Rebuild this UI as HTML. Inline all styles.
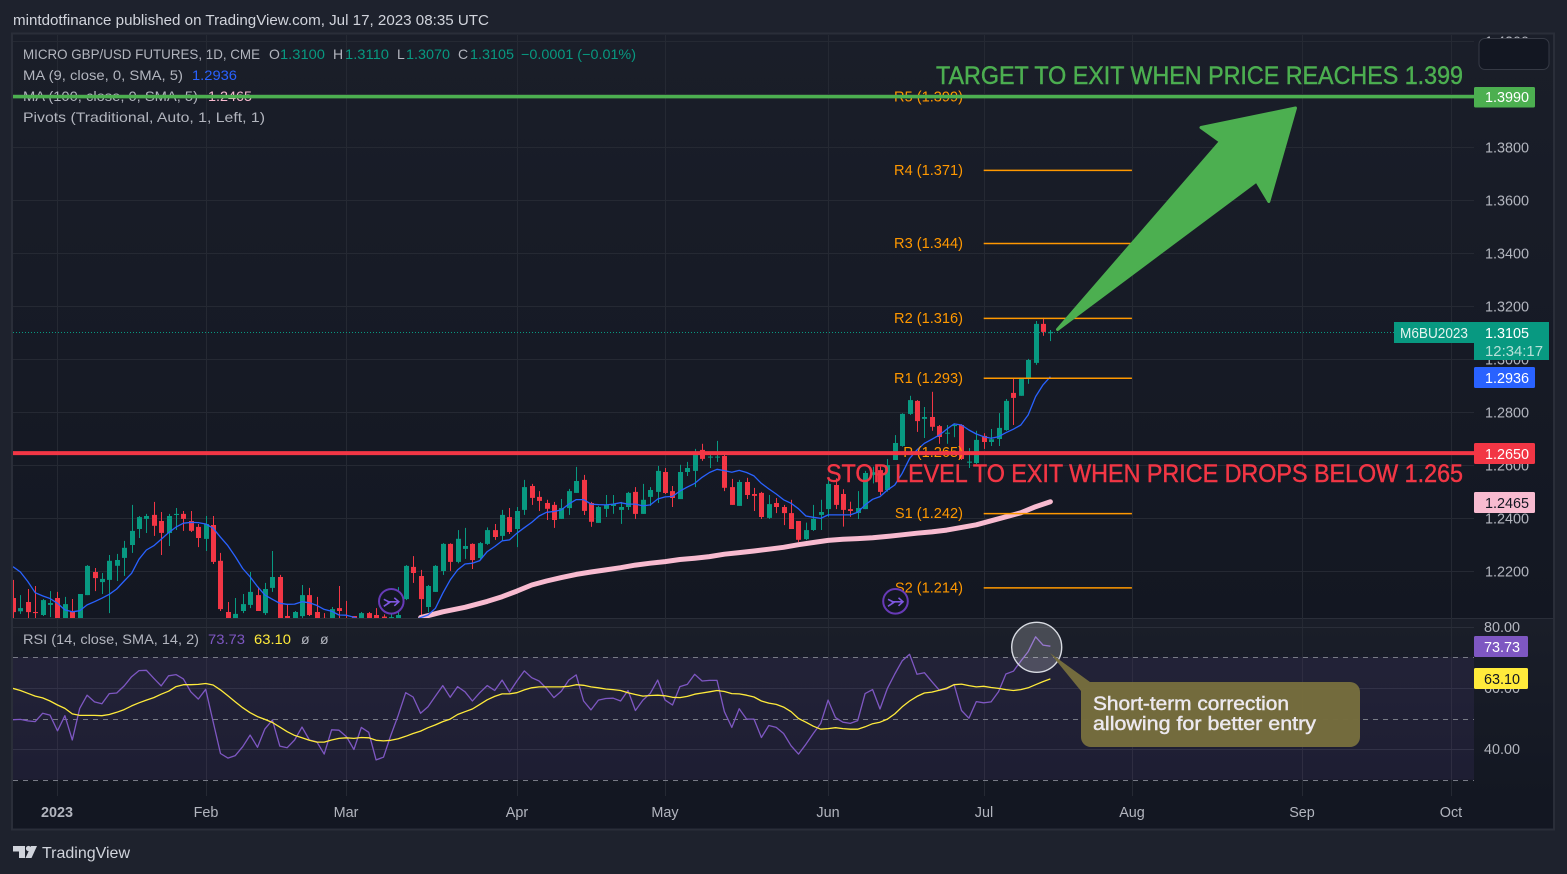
<!DOCTYPE html>
<html lang="en">
<head>
<meta charset="utf-8">
<title>Micro GBP/USD Futures chart</title>
<style>
html,body{margin:0;padding:0;background:#1e222d;width:1567px;height:874px;overflow:hidden}
svg{display:block;font-family:"Liberation Sans",sans-serif}
.leg{font-size:14px;fill:#b2b5be}
.val{font-size:14px;fill:#089981}
.axis{font-size:14.4px;fill:#b2b5be}
.piv{font-size:14.6px;fill:#ff9800}
.box{font-size:14.4px;fill:#fff}
.heavy{paint-order:stroke;stroke-width:0.45px}
</style>
</head>
<body>
<svg id="chart" width="1567" height="874" viewBox="0 0 1567 874" xmlns="http://www.w3.org/2000/svg">
<defs>
<linearGradient id="paneGrad" x1="0" y1="0" x2="0" y2="1"><stop offset="0" stop-color="#1a1e29"/><stop offset="1" stop-color="#131722"/></linearGradient>
<clipPath id="mainClip"><rect x="13" y="34" width="1461" height="584"/></clipPath>
<clipPath id="rsiClip"><rect x="13" y="620" width="1461" height="176"/></clipPath>
</defs>
<rect width="1567" height="874" fill="#1e222d"/>
<text x="13" y="25" font-size="14.4" fill="#d1d4dc" textLength="476" lengthAdjust="spacingAndGlyphs">mintdotfinance published on TradingView.com, Jul 17, 2023 08:35 UTC</text>
<rect x="12" y="33.5" width="1542" height="796" fill="#131722" stroke="#2a2e39" stroke-width="2"/>
<rect x="13" y="34.5" width="1540" height="583.5" fill="url(#paneGrad)"/>
<rect x="13" y="619" width="1540" height="177" fill="url(#paneGrad)"/>
<line x1="13" x2="1553" y1="618.5" y2="618.5" stroke="#2a2e39" stroke-width="1"/>

<g id="gridLayer"></g>
<rect id="rsiBand" x="13" width="1461" fill="#7e57c2" fill-opacity="0.1"/>
<g id="rsiLevels"></g>
<g id="candleLayer" clip-path="url(#mainClip)"></g>
<g id="maLayer" clip-path="url(#mainClip)"></g>
<g id="pivotLayer" clip-path="url(#mainClip)"></g>

<g>
<text class="leg" x="23" y="59" textLength="237" lengthAdjust="spacingAndGlyphs">MICRO GBP/USD FUTURES, 1D, CME</text>
<text class="leg" x="269" y="59">O</text>
<text class="val" x="280" y="59" textLength="45" lengthAdjust="spacingAndGlyphs">1.3100</text>
<text class="leg" x="333" y="59">H</text>
<text class="val" x="345" y="59" textLength="44" lengthAdjust="spacingAndGlyphs">1.3110</text>
<text class="leg" x="397" y="59">L</text>
<text class="val" x="406" y="59" textLength="44" lengthAdjust="spacingAndGlyphs">1.3070</text>
<text class="leg" x="458" y="59">C</text>
<text class="val" x="470" y="59" textLength="44" lengthAdjust="spacingAndGlyphs">1.3105</text>
<text class="val" x="521" y="59" textLength="115" lengthAdjust="spacingAndGlyphs">−0.0001 (−0.01%)</text>
<text class="leg" x="23" y="80" textLength="160" lengthAdjust="spacingAndGlyphs">MA (9, close, 0, SMA, 5)</text>
<text class="val" x="192" y="80" style="fill:#2962ff" textLength="45" lengthAdjust="spacingAndGlyphs">1.2936</text>
<text class="leg" x="23" y="101" textLength="175" lengthAdjust="spacingAndGlyphs">MA (100, close, 0, SMA, 5)</text>
<text class="val" x="208" y="101" style="fill:#f8bbd0" textLength="44" lengthAdjust="spacingAndGlyphs">1.2465</text>
<text class="leg" x="23" y="122" textLength="242" lengthAdjust="spacingAndGlyphs">Pivots (Traditional, Auto, 1, Left, 1)</text>
</g>

<line x1="13" x2="1394" y1="332.5" y2="332.5" stroke="#089981" stroke-width="1" stroke-dasharray="1 2"/>
<g id="hLines"></g>

<g transform="translate(391.3 601.3)">
<circle r="12.3" fill="#131722" stroke="#673ab7" stroke-width="2"/>
<path d="M-7.5-2 L-1.5 1 L-7.5 5 M-4 0.5 H7.5 M3-3.5 L7.5 0.5 L3 4.5" fill="none" stroke="#7e57e0" stroke-width="1.6"/>
</g>
<g transform="translate(895.5 601.3)">
<circle r="12.3" fill="#131722" stroke="#673ab7" stroke-width="2"/>
<path d="M-7.5-2 L-1.5 1 L-7.5 5 M-4 0.5 H7.5 M3-3.5 L7.5 0.5 L3 4.5" fill="none" stroke="#7e57e0" stroke-width="1.6"/>
</g>

<text class="heavy" x="936" y="84" font-size="25" fill="#4caf50" stroke="#4caf50" textLength="527" lengthAdjust="spacingAndGlyphs">TARGET TO EXIT WHEN PRICE REACHES 1.399</text>
<text class="heavy" x="826" y="482" font-size="25" fill="#f23645" stroke="#f23645" textLength="637" lengthAdjust="spacingAndGlyphs">STOP LEVEL TO EXIT WHEN PRICE DROPS BELOW 1.265</text>
<polygon points="1057.5,329.5 1220.5,141.5 1201,127.5 1295.5,108 1268.8,201.5 1256.5,181" fill="#4caf50" stroke="#4caf50" stroke-width="3" stroke-linejoin="round"/>

<g id="rsiLayer" clip-path="url(#rsiClip)"></g>
<circle cx="1036.7" cy="647.3" r="25" fill="#fff" fill-opacity="0.2" stroke="#d8dbe2" stroke-width="1.4"/>
<path d="M1050 653 L1090 682 H1350 a10 10 0 0 1 10 10 V737 a10 10 0 0 1 -10 10 H1091 a10 10 0 0 1 -10 -10 V691 Z" fill="#756d3d" fill-opacity="0.98"/>
<text class="heavy" x="1093" y="710" font-size="19" fill="#ece8ee" stroke="#ece8ee" textLength="196" lengthAdjust="spacingAndGlyphs">Short-term correction</text>
<text class="heavy" x="1093" y="730" font-size="19" fill="#ece8ee" stroke="#ece8ee" textLength="223" lengthAdjust="spacingAndGlyphs">allowing for better entry</text>

<text class="leg" x="23" y="644" textLength="176" lengthAdjust="spacingAndGlyphs">RSI (14, close, SMA, 14, 2)</text>
<text class="val" x="208" y="644" style="fill:#7e57c2" textLength="37" lengthAdjust="spacingAndGlyphs">73.73</text>
<text class="val" x="254" y="644" style="fill:#ffeb3b" textLength="37" lengthAdjust="spacingAndGlyphs">63.10</text>
<text class="leg" x="301" y="644">ø</text>
<text class="leg" x="320" y="644">ø</text>

<g id="axisLayer"></g>

<rect x="1479" y="38.5" width="70" height="31" rx="6" fill="#131722" stroke="#363a45" stroke-width="1"/>

<g>
<rect x="1474" y="87" width="61" height="20.5" rx="1.5" fill="#4caf50"/>
<text class="box" x="1485" y="102">1.3990</text>
<path d="M1394 322 H1549 V360 H1474 V343 H1394 Z" fill="#089981"/>
<text class="box" x="1400" y="338" textLength="68" lengthAdjust="spacingAndGlyphs" style="fill:#e3f3ef">M6BU2023</text>
<text class="box" x="1485" y="338">1.3105</text>
<text class="box" x="1485" y="356" style="fill:#b7e0d8" textLength="58" lengthAdjust="spacingAndGlyphs">12:34:17</text>
<rect x="1474" y="367" width="61" height="21" rx="1.5" fill="#2962ff"/>
<text class="box" x="1485" y="383">1.2936</text>
<rect x="1474" y="443" width="61" height="21" rx="1.5" fill="#f23645"/>
<text class="box" x="1485" y="459">1.2650</text>
<rect x="1474" y="492" width="61" height="21" rx="1.5" fill="#f8bbd0"/>
<text class="box" x="1485" y="508" style="fill:#131722">1.2465</text>
<rect x="1474" y="636" width="54" height="21" rx="1.5" fill="#7e57c2"/>
<text class="box" x="1484" y="652">73.73</text>
<rect x="1474" y="668" width="54" height="21" rx="1.5" fill="#ffeb3b"/>
<text class="box" x="1484" y="684" style="fill:#131722">63.10</text>
</g>

<g fill="#d1d4dc">
<path d="M13 846 H25 V858 H19 V851.5 H13 Z"/>
<circle cx="28.5" cy="848.5" r="2.6"/>
<path d="M37 846 L31.5 858 H25.5 L31 846 Z"/>
<text x="42" y="858" font-size="15.6" fill="#d1d4dc" textLength="88" lengthAdjust="spacingAndGlyphs">TradingView</text>
</g>
</svg>
<script>
const opens=[1.2102,1.2052,1.2087,1.2049,1.2038,1.2076,1.2102,1.2015,1.2053,1.2010,1.2113,1.2200,1.2162,1.2170,1.2223,1.2253,1.2302,1.2362,1.2400,1.2415,1.2392,1.2347,1.2415,1.2419,1.2392,1.2370,1.2325,1.2377,1.2242,1.2049,1.2018,1.2053,1.2076,1.2113,1.2045,1.2140,1.2181,1.2034,1.2020,1.2034,1.2113,1.2049,1.2027,1.2020,1.2064,1.2020,1.2034,1.2015,1.2045,1.2038,1.2032,1.2015,1.2015,1.2098,1.2219,1.2185,1.2068,1.2125,1.2204,1.2306,1.2238,1.2287,1.2306,1.2253,1.2306,1.2358,1.2336,1.2407,1.2362,1.2434,1.2524,1.2483,1.2460,1.2453,1.2400,1.2441,1.2498,1.2547,1.2460,1.2385,1.2438,1.2449,1.2434,1.2445,1.2502,1.2419,1.2483,1.2502,1.2577,1.2505,1.2475,1.2577,1.2581,1.2660,1.2632,1.2632,1.2637,1.2520,1.2449,1.2539,1.2494,1.2498,1.2404,1.2460,1.2445,1.2422,1.2392,1.2324,1.2358,1.2415,1.2437,1.2528,1.2494,1.2437,1.2422,1.2437,1.2566,1.2584,1.2509,1.2622,1.2675,1.2796,1.2845,1.2777,1.2784,1.2750,1.2723,1.2750,1.2754,1.2612,1.2611,1.2713,1.2690,1.2701,1.2735,1.2875,1.2864,1.2928,1.2988,1.3135,1.3100];
const highs=[1.2170,1.2113,1.2136,1.2147,1.2098,1.2128,1.2125,1.2106,1.2098,1.2117,1.2226,1.2215,1.2196,1.2264,1.2268,1.2317,1.2453,1.2411,1.2419,1.2464,1.2426,1.2419,1.2441,1.2430,1.2430,1.2381,1.2411,1.2411,1.2272,1.2087,1.2102,1.2117,1.2200,1.2143,1.2159,1.2279,1.2189,1.2079,1.2053,1.2151,1.2140,1.2106,1.2045,1.2068,1.2147,1.2091,1.2034,1.2049,1.2049,1.2064,1.2040,1.2040,1.2143,1.2226,1.2260,1.2208,1.2151,1.2226,1.2309,1.2308,1.2358,1.2366,1.2308,1.2313,1.2368,1.2381,1.2434,1.2441,1.2445,1.2547,1.2532,1.2505,1.2472,1.2464,1.2475,1.2513,1.2596,1.2566,1.2464,1.2449,1.2490,1.2490,1.2464,1.2502,1.2520,1.2532,1.2520,1.2600,1.2592,1.2524,1.2604,1.2615,1.2664,1.2683,1.2641,1.2694,1.2641,1.2551,1.2547,1.2555,1.2517,1.2502,1.2490,1.2479,1.2453,1.2472,1.2392,1.2386,1.2453,1.2472,1.2549,1.2553,1.2512,1.2465,1.2505,1.2581,1.2597,1.2597,1.2626,1.2716,1.2798,1.2864,1.2848,1.2822,1.2879,1.2754,1.2754,1.2760,1.2757,1.2667,1.2732,1.2723,1.2739,1.2799,1.2852,1.2928,1.2931,1.3003,1.3146,1.3158,1.3112];
const lows=[1.2020,1.2042,1.2020,1.2020,1.2034,1.2030,1.2005,1.2005,1.2005,1.2005,1.2113,1.2128,1.2117,1.2045,1.2166,1.2185,1.2272,1.2328,1.2347,1.2336,1.2264,1.2298,1.2358,1.2355,1.2351,1.2294,1.2279,1.2230,1.2053,1.2010,1.2010,1.2045,1.2064,1.2053,1.2038,1.2125,1.2005,1.2010,1.2010,1.2027,1.2034,1.2010,1.2005,1.2010,1.2020,1.2000,1.2010,1.2010,1.2010,1.2010,1.2010,1.2010,1.2010,1.2094,1.2159,1.2020,1.2049,1.2125,1.2189,1.2204,1.2233,1.2249,1.2211,1.2245,1.2302,1.2321,1.2317,1.2343,1.2294,1.2415,1.2453,1.2430,1.2396,1.2366,1.2400,1.2415,1.2498,1.2415,1.2370,1.2385,1.2407,1.2419,1.2381,1.2434,1.2400,1.2419,1.2449,1.2460,1.2494,1.2445,1.2475,1.2562,1.2520,1.2619,1.2592,1.2615,1.2505,1.2453,1.2449,1.2475,1.2430,1.2400,1.2400,1.2422,1.2377,1.2362,1.2313,1.2320,1.2355,1.2358,1.2408,1.2437,1.2371,1.2408,1.2400,1.2437,1.2534,1.2490,1.2503,1.2622,1.2672,1.2792,1.2728,1.2705,1.2732,1.2683,1.2683,1.2708,1.2622,1.2592,1.2607,1.2664,1.2675,1.2675,1.2732,1.2754,1.2864,1.2909,1.2981,1.3090,1.3070];
const closes=[1.2049,1.2064,1.2049,1.2045,1.2094,1.2083,1.2015,1.2079,1.2015,1.2117,1.2223,1.2177,1.2174,1.2242,1.2245,1.2291,1.2355,1.2407,1.2411,1.2374,1.2347,1.2411,1.2419,1.2400,1.2355,1.2328,1.2381,1.2238,1.2060,1.2018,1.2042,1.2079,1.2125,1.2053,1.2136,1.2181,1.2015,1.2020,1.2049,1.2113,1.2038,1.2020,1.2015,1.2060,1.2053,1.2010,1.2020,1.2045,1.2015,1.2020,1.2018,1.2030,1.2038,1.2223,1.2196,1.2098,1.2147,1.2223,1.2306,1.2238,1.2325,1.2298,1.2245,1.2309,1.2358,1.2332,1.2415,1.2351,1.2430,1.2520,1.2479,1.2468,1.2438,1.2396,1.2441,1.2505,1.2543,1.2430,1.2389,1.2445,1.2453,1.2456,1.2445,1.2498,1.2419,1.2472,1.2509,1.2581,1.2498,1.2479,1.2577,1.2592,1.2641,1.2626,1.2635,1.2635,1.2517,1.2453,1.2539,1.2490,1.2487,1.2407,1.2456,1.2445,1.2422,1.2362,1.2321,1.2358,1.2400,1.2426,1.2532,1.2453,1.2434,1.2430,1.2441,1.2573,1.2576,1.2502,1.2603,1.2686,1.2796,1.2848,1.2769,1.2784,1.2747,1.2709,1.2725,1.2754,1.2626,1.2616,1.2698,1.2690,1.2700,1.2743,1.2845,1.2856,1.2928,1.2999,1.3135,1.3105,1.3105];
const ma9=[1.2220,1.2200,1.2164,1.2122,1.2110,1.2100,1.2082,1.2057,1.2050,1.2054,1.2076,1.2088,1.2101,1.2116,1.2136,1.2166,1.2195,1.2248,1.2283,1.2299,1.2323,1.2348,1.2369,1.2384,1.2387,1.2386,1.2381,1.2365,1.2331,1.2299,1.2258,1.2213,1.2182,1.2145,1.2113,1.2097,1.2082,1.2078,1.2079,1.2088,1.2084,1.2074,1.2059,1.2052,1.2038,1.2037,1.2029,1.2019,1.2010,1.2000,1.1995,1.1990,1.1995,1.2002,1.2015,1.2028,1.2038,1.2063,1.2120,1.2170,1.2208,1.2230,1.2233,1.2243,1.2277,1.2296,1.2317,1.2321,1.2346,1.2367,1.2387,1.2411,1.2425,1.2428,1.2434,1.2456,1.2473,1.2473,1.2456,1.2454,1.2453,1.2456,1.2461,1.2456,1.2456,1.2449,1.2453,1.2475,1.2483,1.2485,1.2505,1.2520,1.2534,1.2557,1.2575,1.2587,1.2582,1.2576,1.2583,1.2575,1.2562,1.2534,1.2513,1.2494,1.2472,1.2459,1.2438,1.2411,1.2406,1.2402,1.2415,1.2415,1.2415,1.2415,1.2425,1.2453,1.2474,1.2484,1.2509,1.2528,1.2572,1.2628,1.2660,1.2685,1.2700,1.2716,1.2738,1.2758,1.2754,1.2735,1.2720,1.2710,1.2704,1.2710,1.2725,1.2738,1.2754,1.2792,1.2861,1.2905,1.2936];
const ma100Bars=[55,58,61,64,66,68,70,72,74,76,78,80,82,84,86,88,90,92,94,96,98,100,102,104,106,108,110,112,114,116,118,120,122,124,126,128,130,132,134,136,138,140];
const ma100Values=[1.2028,1.2050,1.2067,1.2089,1.2107,1.2128,1.2151,1.2166,1.2179,1.2191,1.2200,1.2208,1.2216,1.2226,1.2233,1.2239,1.2247,1.2252,1.2258,1.2267,1.2273,1.2279,1.2286,1.2293,1.2303,1.2311,1.2319,1.2323,1.2326,1.2329,1.2334,1.2340,1.2346,1.2351,1.2358,1.2368,1.2378,1.2393,1.2408,1.2423,1.2446,1.2465];
const rsiValues=[49.8,49.9,49.4,49.2,51.9,51.3,46.2,51.1,43.2,53.5,57.8,55.6,55.0,58.3,58.5,60.8,63.8,65.8,65.9,63.3,60.8,64.1,64.5,63.1,58.9,56.5,59.7,49.2,38.8,37.3,38.1,41.0,44.8,40.8,46.8,49.7,41.2,40.7,43.2,47.4,43.2,42.6,38.6,46.5,46.4,44.3,40.1,47.3,45.7,36.7,37.6,44.8,51.3,58.6,57.2,51.9,54.0,57.5,60.9,57.1,60.6,58.9,55.9,58.6,60.9,59.3,62.7,58.8,62.4,65.7,63.5,62.4,60.0,57.0,59.1,62.7,64.4,55.9,53.0,56.2,56.7,56.8,55.9,59.3,52.8,56.2,58.4,62.7,56.2,54.6,60.6,61.3,64.6,62.4,62.6,62.6,52.4,47.3,53.4,50.0,50.0,44.0,47.9,47.3,45.3,41.3,38.6,41.8,45.3,48.6,56.2,50.5,49.0,48.6,49.5,58.3,59.6,53.3,60.0,64.7,69.0,71.1,64.6,65.1,62.2,59.4,59.8,61.3,52.8,50.3,55.7,55.3,55.6,58.9,64.7,65.6,68.9,72.0,76.8,74.1,73.73];
const rsiMa=[60.0,59.3,58.4,57.5,56.9,55.9,54.6,53.5,51.7,51.2,51.2,51.2,51.1,51.5,52.2,53.1,54.3,55.3,56.2,57.0,58.1,59.1,60.6,61.2,61.2,61.3,61.6,61.1,59.5,57.6,55.6,53.7,52.1,50.8,49.9,48.9,47.4,45.9,44.7,43.9,43.1,42.5,42.5,43.2,43.7,43.9,43.7,44.0,43.9,43.1,42.9,43.1,43.6,44.4,45.3,46.1,47.2,48.1,49.2,50.0,51.5,52.4,53.3,54.8,56.3,57.4,58.2,58.2,58.6,59.5,60.2,60.5,60.5,60.5,60.5,60.7,61.2,61.0,60.5,60.2,59.8,59.6,59.3,58.6,58.0,57.5,57.7,57.8,57.6,57.1,57.0,57.4,58.1,58.5,58.9,59.3,59.0,58.3,58.2,57.8,57.2,55.9,55.2,54.8,53.9,52.4,50.2,49.0,47.7,46.7,46.9,47.2,46.9,46.7,46.7,47.5,48.5,49.0,50.0,51.7,54.0,55.9,57.4,58.5,58.8,59.4,60.1,61.2,61.4,60.9,60.5,60.7,60.3,60.0,59.6,59.3,59.6,60.2,61.2,62.2,63.1];
const priceTicks=[1.42,1.40,1.38,1.36,1.34,1.32,1.30,1.28,1.26,1.24,1.22];
const rsiTicks=[80,60,40];
const rsiBands=[70,50,30];
const monthLabels=['2023','Feb','Mar','Apr','May','Jun','Jul','Aug','Sep','Oct'];
const monthBars=[6,26,45,68,88,110,131,151,174,194];
const pivotNames=['R5','R4','R3','R2','R1','P','S1','S2'];
const pivotLevels=[1.3990,1.3714,1.3438,1.3156,1.2930,1.2650,1.2420,1.2140];
const pivotStartBar=131;
const pivotEndBar=151;
const targetPrice=1.399;
const stopPrice=1.265;
const lastPrice=1.3105;

const NS='http://www.w3.org/2000/svg';
const xBar=i=>13+7.41*i;
const yPrice=p=>147.5+(1.38-p)*2653;
const yRsi=r=>627+(80-r)*3.07;
function mk(tag,parent,props){
  const el=document.createElementNS(NS,tag);
  for(const k in props){el.setAttribute(k,props[k]);}
  parent.appendChild(el);
  return el;
}
function lineFrom(xs,ys){
  return xs.map((x,i)=>(i?'L':'M')+x.toFixed(1)+' '+ys[i].toFixed(1)).join(' ');
}

const grid=document.getElementById('gridLayer');
const axes=document.getElementById('axisLayer');

monthBars.forEach((b,i)=>{
  const x=Math.round(xBar(b))+0.5;
  const v=mk('line',grid,{x1:x,x2:x,y1:35,y2:796,stroke:'#252933','stroke-width':1});
  
  
  const t=mk('text',axes,{x:x-0.5,y:817,'text-anchor':'middle',class:'axis'});
  
  
  t.textContent=monthLabels[i];
  if(i===0){t.setAttribute('font-weight','bold');}
});
priceTicks.forEach(p=>{
  const y=Math.floor(yPrice(p))+0.5;
  const h=mk('line',grid,{x1:13,x2:1474,y1:y,y2:y,stroke:'#252933','stroke-width':1});
  
  
  const t=mk('text',axes,{x:1485,y:y+5,class:'axis'});
  
  
  t.textContent=p.toFixed(4);
});
rsiTicks.forEach(r=>{
  const y=Math.floor(yRsi(r))+0.5;
  const h=mk('line',grid,{x1:13,x2:1474,y1:y,y2:y,stroke:'#2a2e39','stroke-width':1});
  
  
  const t=mk('text',axes,{x:1484,y:y+4.5,class:'axis'});
  
  
  t.textContent=r.toFixed(2);
});

const band=document.getElementById('rsiBand');
band.setAttribute('y',Math.floor(yRsi(rsiBands[0])));
band.setAttribute('height',yRsi(rsiBands[2])-yRsi(rsiBands[0]));
const levels=document.getElementById('rsiLevels');
rsiBands.forEach(r=>{
  const y=Math.floor(yRsi(r))+0.5;
  const l=mk('line',levels,{x1:13,x2:1474,y1:y,y2:y,stroke:'#787b86','stroke-width':1,'stroke-dasharray':'5 5'});
  
  
});

const candles=document.getElementById('candleLayer');
closes.forEach((c,i)=>{
  const o=opens[i];
  const col=c>=o?'#089981':'#f23645';
  const cx=Math.round(xBar(i));
  const g=mk('g',candles,{fill:col});
  
  
  const yh=yPrice(highs[i]);
  const yl=yPrice(lows[i]);
  mk('rect',g,{x:cx,y:yh.toFixed(1),width:1,height:(yl-yh).toFixed(1)});
  const top=yPrice(Math.max(o,c));
  const bot=yPrice(Math.min(o,c));
  mk('rect',g,{x:cx-2,y:top.toFixed(1),width:5,height:Math.max(1,bot-top).toFixed(1)});
});

const maLayer=document.getElementById('maLayer');
const ma100Line=mk('path',maLayer,{d:lineFrom(ma100Bars.map(xBar),ma100Values.map(yPrice)),fill:'none',stroke:'#f8bbd0','stroke-width':5,'stroke-linecap':'round','stroke-linejoin':'round'});


const ma9Line=mk('path',maLayer,{d:lineFrom(ma9.map((v,i)=>xBar(i)),ma9.map(yPrice)),fill:'none',stroke:'#2962ff','stroke-width':1.3,'stroke-linejoin':'round'});



const pivots=document.getElementById('pivotLayer');
pivotLevels.forEach((p,i)=>{
  const y=yPrice(p);
  const l=mk('line',pivots,{x1:xBar(pivotStartBar),x2:xBar(pivotEndBar),y1:y,y2:y,stroke:'#ff9800','stroke-width':1.5});
  
  
  const t=mk('text',pivots,{x:963,y:y+4.5,'text-anchor':'end',class:'piv'});
  
  
  t.textContent=pivotNames[i]+' ('+p.toFixed(3)+')';
});

const hLines=document.getElementById('hLines');
const targetLine=mk('line',hLines,{x1:13,x2:1474,y1:yPrice(targetPrice)-0.5,y2:yPrice(targetPrice)-0.5,stroke:'#4caf50','stroke-width':3.5});


const stopLine=mk('line',hLines,{x1:13,x2:1474,y1:yPrice(stopPrice)+0.5,y2:yPrice(stopPrice)+0.5,stroke:'#f23645','stroke-width':4});



const rsiLayer=document.getElementById('rsiLayer');
const rsiLine=mk('path',rsiLayer,{d:lineFrom(rsiValues.map((v,i)=>xBar(i)),rsiValues.map(yRsi)),fill:'none',stroke:'#7e57c2','stroke-width':1.3,'stroke-linejoin':'round'});


const rsiMaLine=mk('path',rsiLayer,{d:lineFrom(rsiMa.map((v,i)=>xBar(i)),rsiMa.map(yRsi)),fill:'none',stroke:'#ffeb3b','stroke-width':1.3,'stroke-linejoin':'round'});


</script>
</body>
</html>
